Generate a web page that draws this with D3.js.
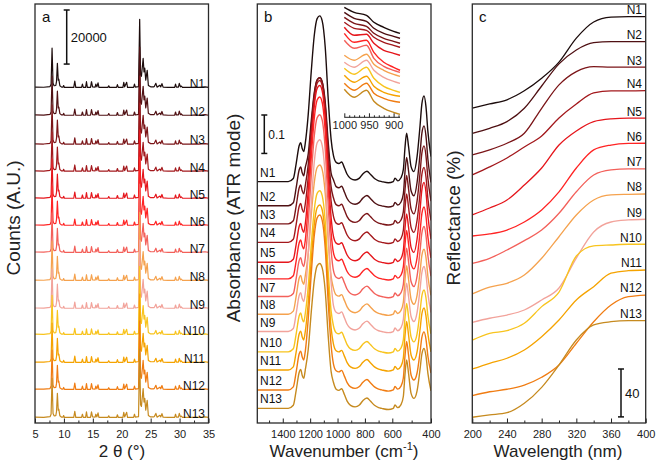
<!DOCTYPE html>
<html><head><meta charset="utf-8">
<script src="https://cdn.jsdelivr.net/npm/d3@7"></script>
<style>body{margin:0;background:#fff} svg{display:block;font-family:"Liberation Sans",Arial,sans-serif}</style>
</head><body><svg id="c" width="658" height="467"></svg>
<script>
// ---------------- data ----------------
const series = ["N1","N2","N3","N4","N5","N6","N7","N8","N9","N10","N11","N12","N13"];
const colors = ["#1c0c0c","#4f1013","#7b1518","#a3181c","#e5161c","#ff2424","#f3605a","#f5a24e","#f2a39b","#f8c41e","#f5a300","#f07c12","#c68a1f"];

// panel a : XRD pattern [2theta, counts] and vertical offsets (counts)
const xrdPattern = [[5.0,400],[6.5,350],[7.6,600],[7.78,1500],[7.95,14800],[8.12,1800],[8.3,900],[8.6,1000],[8.72,2500],[8.87,9200],[9.02,3000],[9.12,3300],[9.3,900],[9.6,400],[9.85,400],[9.95,1000],[10.1,300],[11.7,300],[11.88,2600],[12.05,300],[13.05,300],[13.2,1500],[13.35,300],[13.75,300],[13.9,2400],[14.05,300],[14.6,300],[14.77,2400],[14.95,500],[15.4,400],[15.52,1500],[15.7,500],[15.9,2000],[16.05,300],[16.5,300],[17.6,300],[17.75,900],[17.9,300],[19.1,300],[19.25,1300],[19.4,300],[20.2,300],[20.35,2200],[20.5,500],[20.85,2200],[21.0,300],[21.8,300],[22.05,300],[22.2,1500],[22.35,400],[22.9,600],[23.1,25500],[23.25,5000],[23.4,4400],[23.7,11000],[23.85,6000],[23.98,7400],[24.15,3000],[24.4,6600],[24.6,1000],[25.0,500],[25.55,500],[25.65,700],[25.9,1800],[26.1,400],[26.6,1100],[26.75,500],[26.95,1700],[27.15,400],[28.0,300],[29.15,300],[29.3,1500],[29.45,400],[29.8,400],[29.95,1800],[30.15,500],[30.3,800],[30.5,300],[32.0,300],[32.8,400],[33.3,300],[34.4,500],[35.0,300]];
const xrdOffsets = [123850,113550,102850,92850,82850,72850,62850,52450,42150,32450,22150,12150,1750];
const xrdTicks = [5,10,15,20,25,30,35];

// panel b : FTIR template [wavenumber, absorbance, band] ; band 1 = main band, 2 = 450 band
const ftirTemplate = [[1586,0,0],[1360,0,0],[1323,0.008,0],[1302,0.047,0],[1280,0.094,0],[1269,0.101,0],[1258,0.086,0],[1247,0.078,0],[1236,0.099,0],[1214,0.175,1],[1192,0.286,1],[1170,0.380,1],[1149,0.424,1],[1130,0.431,1],[1112,0.418,1],[1090,0.350,1],[1068,0.215,1],[1047,0.110,1],[1030,0.068,0],[1010,0.050,0],[990,0.047,0],[970,0.051,0],[950,0.036,0],[930,0.019,0],[905,0.008,0],[872,0.004,0],[840,0.009,0],[815,0.020,0],[785,0.027,0],[760,0.019,0],[730,0.008,0],[700,0.002,0],[677,0,0],[629,-0.003,0],[595,0,0],[586,0.009,0],[572,0.002,0],[555,0.010,0],[543,0.031,0],[534,0.091,0],[526,0.126,0],[516,0.091,0],[503,0.039,0],[488,0.026,0],[472,0.065,2],[457,0.143,2],[447,0.203,2],[436,0.223,2],[426,0.195,2],[416,0.130,2],[400,0.065,2]];
const ftirMainPeak = [0.431,0.333,0.380,0.421,0.460,0.473,0.473,0.388,0.499,0.419,0.429,0.455,0.377];
const ftirPeak450 = [0.223,0.208,0.203,0.195,0.208,0.187,0.182,0.169,0.169,0.161,0.161,0.151,0.156];
const ftirOffsets = [0.628,0.565,0.518,0.470,0.418,0.375,0.329,0.283,0.238,0.185,0.138,0.086,0.038];
const ftirTicks = [1400,1200,1000,800,600,400];
const insetWavenumbers = [1000,980,955,940,920,900,887];
const insetValues = [
 [110,105,102,95,90,86,84],
 [105,99,96,89,84,81,79],
 [100,94,91,84,79,76,74],
 [95,89,87,80,75,72,70],
 [90,82,83,74,67,64,62],
 [84,75,77,65,55,50,47],
 [77,69,72,59,51,47,45],
 [62,57,63,53,47,43,41],
 [55,50,57,47,40,36,34],
 [49,43,50,39,31,27,25],
 [42,35,41,31,25,22,21],
 [34,27,34,24,19,16,15],
 [28,20,27,16,9,5,3]];
const insetTicks = [1000,950,900];

// panel c : UV-vis reflectance (%)
const uvWavelengths = [200,220,240,260,280,300,320,340,360,380,400];
const uvReflectance = [
 [263,266.5,270,277.5,288,301.5,321.5,335,339,339.5,339.5],
 [242,246.2,251.7,262.9,281.5,300,311.6,317.7,318.5,318.5,318.5],
 [223.9,228.1,233.7,242,262.9,282.4,293.5,297.7,297.2,297.2,297.2],
 [207.2,213.9,221.4,230.6,239.8,254.8,266.5,275.7,277.4,277.4,277.6],
 [173.8,179.6,186.3,198.8,213,232.2,243.9,251.7,254,254.6,254.6],
 [156.2,157.9,161.2,167.9,177.9,193,213,228.1,232.2,233.5,233.7],
 [133.4,137.6,144.5,152.3,161.2,175.2,193.2,207.2,211.4,212.2,212.2],
 [107.8,113.4,116.7,123.6,137.6,155.6,173.8,186.3,190.5,191,191.3],
 [84.1,87.5,90.2,94.4,102.8,112.8,137.8,159.6,167.9,169.6,170.2],
 [69.3,74.9,77.1,83.3,97.2,109.4,139.5,147.9,148.7,149.3,149.3],
 [45.1,49.9,54.1,61,72.1,86,102.8,113.9,125.1,127.2,127.8],
 [22.8,26.1,28.2,31.7,38.2,48.5,66.6,84.6,98.6,105.5,106.9],
 [4.8,6.7,8.6,16.5,29.8,48.5,69.3,81.9,84.6,85.5,85.5]];
const uvTicks = [200,240,280,320,360,400];

// ---------------- drawing ----------------
const svg = d3.select("#c");
const FONT_T = 11, TOP = 4, BOT = 423;

function frame(g, x0, x1, id) {
  g.append("clipPath").attr("id", id).append("rect")
    .attr("x", x0).attr("y", TOP).attr("width", x1 - x0).attr("height", BOT - TOP);
}
function bottomAxis(scale, major, minor, fmt) {
  const g = svg.append("g").attr("transform", `translate(0,${BOT})`);
  g.call(d3.axisBottom(scale).tickValues(minor).tickSize(-2.5).tickFormat(""))
    .call(a => a.select(".domain").remove());
  const g2 = svg.append("g").attr("transform", `translate(0,${BOT})`);
  g2.call(d3.axisBottom(scale).tickValues(major).tickSize(-4.5).tickPadding(7).tickFormat(fmt || d3.format("d")))
    .call(a => a.select(".domain").remove());
  g2.selectAll("text").attr("font-size", FONT_T).attr("fill", "#222").attr("font-family", '"Liberation Sans",Arial,sans-serif');
  [g, g2].forEach(a => a.selectAll("line").attr("stroke", "#222").attr("stroke-width", 1));
}
function box(x0, x1) {
  svg.append("rect").attr("x", x0).attr("y", TOP).attr("width", x1 - x0).attr("height", BOT - TOP)
    .attr("fill", "none").attr("stroke", "#2a2a2a").attr("stroke-width", 1.3);
}
function yTitle(x, text) {
  svg.append("text").attr("transform", `translate(${x},218) rotate(-90)`).attr("text-anchor", "middle")
    .attr("font-size", 19).attr("fill", "#222").text(text);
}
function scaleBar(x, y1, y2, label, fs) {
  svg.append("line").attr("x1", x).attr("x2", x).attr("y1", y1).attr("y2", y2).attr("stroke", "#111").attr("stroke-width", 1.5);
  [y1, y2].forEach(y => svg.append("line").attr("x1", x - 3).attr("x2", x + 3).attr("y1", y).attr("y2", y).attr("stroke", "#111").attr("stroke-width", 1.5));
  svg.append("text").attr("x", x + 4).attr("y", (y1 + y2) / 2 + fs * 0.36).attr("font-size", fs).attr("fill", "#111").text(label);
}

// ----- panel a -----
const xa = d3.scaleLinear([5, 35], [35, 208.5]);
const ya = d3.scaleLinear([0, 155000], [BOT, TOP]);
frame(svg, 35, 208.5, "clipA");
const lineA = d3.line().x(d => xa(d[0])).y(d => ya(d[1]));
const gA = svg.append("g").attr("clip-path", "url(#clipA)");
series.forEach((s, i) => {
  gA.append("path").datum(xrdPattern.map(p => [p[0], p[1] + xrdOffsets[i]]))
    .attr("d", lineA).attr("fill", "none").attr("stroke", colors[i]).attr("stroke-width", 1.2).attr("stroke-linejoin", "round");
});
series.forEach((s, i) => {
  svg.append("text").attr("x", 205).attr("y", ya(xrdOffsets[i]) - 0.5).attr("text-anchor", "end")
    .attr("font-size", 12).attr("fill", "#111").text(s);
});
bottomAxis(xa, xrdTicks, d3.range(7.5, 35, 5));
box(35, 208.5);
svg.append("text").attr("x", 42).attr("y", 22).attr("font-size", 15).attr("fill", "#111").text("a");
scaleBar(66.7, 10, 10 + (ya(0) - ya(20000)), "20000", 13);
svg.append("text").attr("x", 122).attr("y", 457).attr("text-anchor", "middle").attr("font-size", 17).attr("fill", "#222").text("2 θ (°)");
yTitle(20, "Counts (A.U.)");

// ----- panel b -----
const xb = d3.scaleLinear([1586, 600, 400], [257.3, 392.3, 431]);
const yb = d3.scaleLinear([0, 1.09], [BOT, TOP]);
frame(svg, 257.3, 431, "clipB");
const lineB = d3.line().x(d => xb(d[0])).y(d => yb(d[1])).curve(d3.curveMonotoneX);
const gB = svg.append("g").attr("clip-path", "url(#clipB)");
series.forEach((s, i) => {
  const pts = ftirTemplate.map(([wn, a, band]) => {
    const f = band === 1 ? ftirMainPeak[i] / ftirMainPeak[0] : band === 2 ? ftirPeak450[i] / ftirPeak450[0] : 1;
    return [wn, ftirOffsets[i] + a * f];
  });
  gB.append("path").datum(pts).attr("d", lineB).attr("fill", "none")
    .attr("stroke", colors[i]).attr("stroke-width", 1.4);
});
series.forEach((s, i) => {
  svg.append("text").attr("x", 260).attr("y", yb(ftirOffsets[i]) - 5).attr("font-size", 12).attr("fill", "#111").text(s);
});
// inset
const xi = d3.scaleLinear([1000, 887], [344.3, 400]);
const yi = d3.scaleLinear([0, 113.3], [117.3, 4]);
const lineI = d3.line().x((d, k) => xi(insetWavenumbers[k])).y(d => yi(d)).curve(d3.curveMonotoneX);
series.forEach((s, i) => {
  svg.append("path").datum(insetValues[i]).attr("d", lineI).attr("fill", "none")
    .attr("stroke", colors[i]).attr("stroke-width", 1.4);
});
const gi = svg.append("g").attr("transform", "translate(0,117.3)");
gi.call(d3.axisBottom(xi).tickValues(d3.range(990, 886, -10).filter(v => v % 50)).tickSize(-2).tickFormat(""));
const gi2 = svg.append("g").attr("transform", "translate(0,117.3)");
gi2.call(d3.axisBottom(xi).tickValues(insetTicks).tickSize(-4).tickPadding(4).tickFormat(d3.format("d")));
gi.select(".domain").attr("d", `M${xi(1000)},0H${xi(887)}`);
gi2.select(".domain").remove();
[gi, gi2].forEach(a => { a.selectAll("line,path").attr("stroke", "#222"); });
gi2.selectAll("text").attr("font-size", FONT_T).attr("fill", "#222").attr("font-family", '"Liberation Sans",Arial,sans-serif');

bottomAxis(xb, ftirTicks, [1500, 1300, 1100, 900, 700, 500]);
box(257.3, 431);
svg.append("text").attr("x", 264).attr("y", 22).attr("font-size", 15).attr("fill", "#111").text("b");
scaleBar(264.3, 115, 115 + (yb(0) - yb(0.1)), "0.1", 12);
const tb = svg.append("text").attr("x", 344).attr("y", 457).attr("text-anchor", "middle").attr("font-size", 17).attr("fill", "#222");
tb.append("tspan").text("Wavenumber (cm");
tb.append("tspan").attr("font-size", 11).attr("dy", -7).text("-1");
tb.append("tspan").attr("dy", 7).text(")");
yTitle(240, "Absorbance (ATR mode)");

// ----- panel c -----
const xc = d3.scaleLinear([200, 400], [472.3, 645.7]);
const yc = d3.scaleLinear([0, 350], [BOT, TOP]);
frame(svg, 472.3, 645.7, "clipC");
const lineC = d3.line().x((d, k) => xc(uvWavelengths[k])).y(d => yc(d)).curve(d3.curveMonotoneX);
const gC = svg.append("g").attr("clip-path", "url(#clipC)");
series.forEach((s, i) => {
  gC.append("path").datum(uvReflectance[i]).attr("d", lineC).attr("fill", "none")
    .attr("stroke", colors[i]).attr("stroke-width", 1.3);
});
series.forEach((s, i) => {
  svg.append("text").attr("x", 642).attr("y", yc(uvReflectance[i][uvReflectance[i].length - 1]) - 2.7)
    .attr("text-anchor", "end").attr("font-size", 12).attr("fill", "#111").text(s);
});
bottomAxis(xc, uvTicks, [220, 260, 300, 340, 380]);
box(472.3, 645.7);
svg.append("text").attr("x", 479).attr("y", 22).attr("font-size", 15).attr("fill", "#111").text("c");
scaleBar(621, 369, 369 + (yc(0) - yc(40)), "40", 13);
svg.append("text").attr("x", 558).attr("y", 457).attr("text-anchor", "middle").attr("font-size", 17).attr("fill", "#222").text("Wavelength (nm)");
yTitle(460, "Reflectance (%)");
</script></body></html>
